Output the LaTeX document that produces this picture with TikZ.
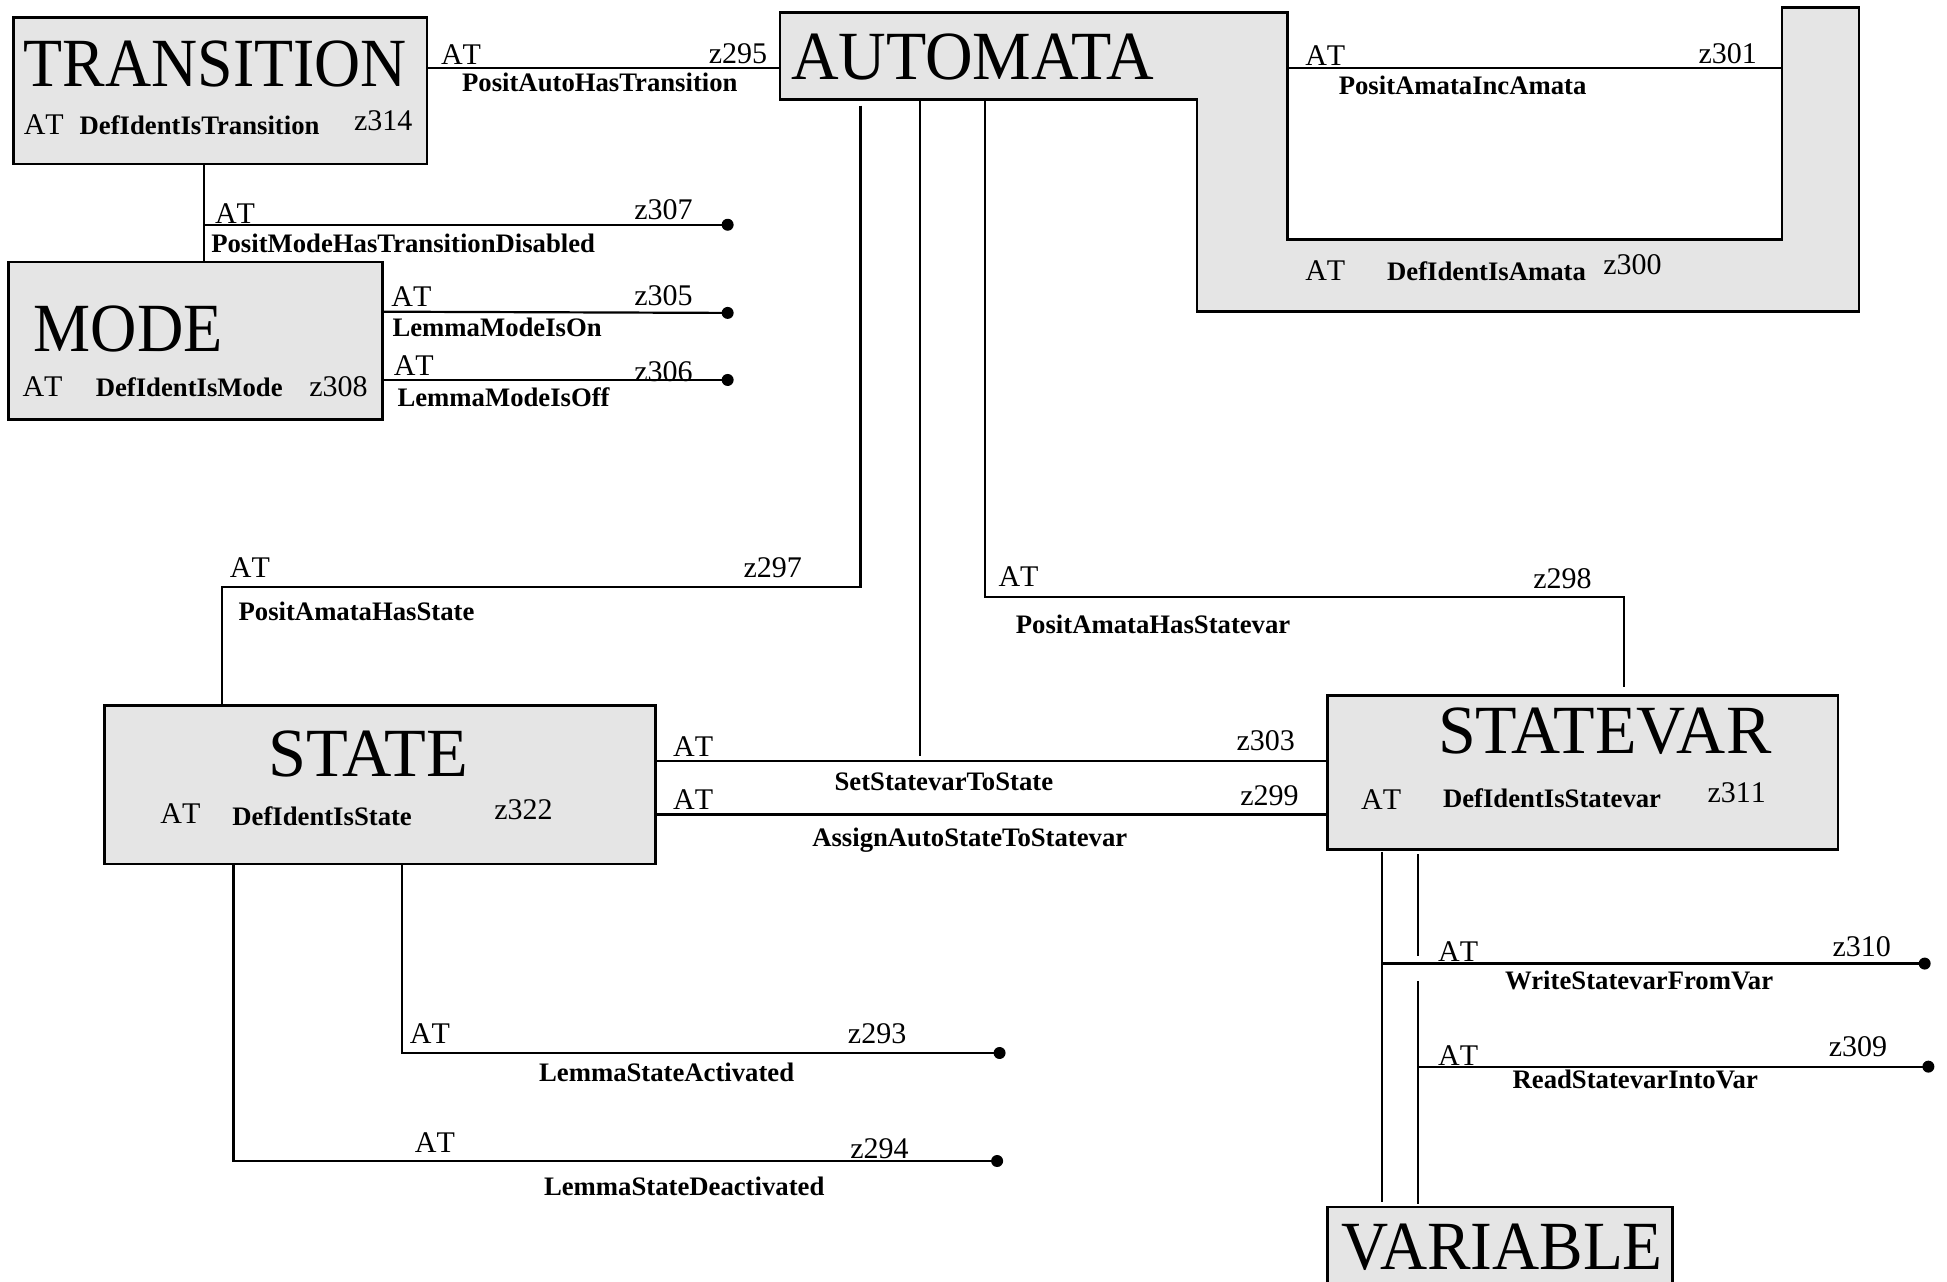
\documentclass[tikz,border=0pt]{standalone}
\usepackage{fontspec}
\setmainfont{Liberation Serif}
\newfontfamily\nokernfont[Kerning=Off]{Liberation Serif}
\usetikzlibrary{fit}
\definecolor{boxgray}{HTML}{E5E5E5}
\begin{document}
\begin{tikzpicture}[x=1.2417pt,y=-1.2417pt,
  box/.style={draw, fill=boxgray, line width=2.5pt, inner sep=0pt},
  conn/.style={line width=2.2pt},
  lab/.style={anchor=base west, inner sep=0pt, font=\nokernfont\fontsize{30}{32}\selectfont},
  labr/.style={anchor=base east, inner sep=0pt, font=\nokernfont\fontsize{30}{32}\selectfont},
  rel/.style={anchor=base west, inner sep=0pt, font=\fontsize{26.7}{28}\selectfont\bfseries},
  ttl/.style={anchor=base west, inner sep=0pt, font=\fontsize{69}{72}\selectfont},
  enddot/.style={circle, fill, inner sep=0pt, minimum size=12pt}]
\useasboundingbox (0,0) rectangle (1568,1032);

% ---------- boxes ----------
\coordinate (t1) at (11,14);   \coordinate (t2) at (344,132);
\node[box, fit=(t1)(t2)] (trans) {};
\coordinate (m1) at (7,211);   \coordinate (m2) at (308,338);
\node[box, fit=(m1)(m2)] (mode) {};
\coordinate (s1) at (84,568);  \coordinate (s2) at (528,696);
\node[box, fit=(s1)(s2)] (state) {};
\coordinate (v1) at (1069,560); \coordinate (v2) at (1480,684);
\node[box, fit=(v1)(v2)] (statevar) {};
\coordinate (w1) at (1069,972); \coordinate (w2) at (1347,1045);
\node[box, fit=(w1)(w2)] (variable) {};

% AUTOMATA (U-shaped)
\draw[box] (628,10) -- (1037,10) -- (1037,193) -- (1435,193) -- (1435,6)
  -- (1497,6) -- (1497,251) -- (964,251) -- (964,80) -- (628,80) -- cycle;
\coordinate (autoW) at (628,55);

% ---------- titles ----------
\node[ttl] (ttrans) at (19,70) {\scalebox{0.925}[1]{TRANSITION}};
\node[ttl] (tauto) at (637,64) {\scalebox{0.955}[1]{AUTOMATA}};
\node[ttl] (tmode) at (27,283) {\scalebox{0.93}[1]{MODE}};
\node[ttl] (tstate) at (216,625) {\scalebox{0.99}[1]{STATE}};
\node[ttl] (tsv) at (1158,607) {\scalebox{0.985}[1]{STATEVAR}};
\node[ttl] (tvar) at (1080,1022) {\scalebox{0.946}[1]{VARIABLE}};

% ---------- identifier lines in boxes ----------
\node[lab] (at314) at (19,108) {AT};
\node[rel] (r314) at (64,108) {DefIdentIsTransition};
\node[lab] (z314) at (285,105) {z314};

\node[lab] (at308) at (18,319) {AT};
\node[rel] (r308) at (77,319) {DefIdentIsMode};
\node[lab] (z308) at (249,319) {z308};

\node[lab] (at322) at (129,663) {AT};
\node[rel] (r322) at (187,665) {DefIdentIsState};
\node[lab] (z322) at (398,660) {z322};

\node[lab] (at311) at (1096,652) {AT};
\node[rel] (r311) at (1162,650) {DefIdentIsStatevar};
\node[lab] (z311) at (1375,646) {z311};

\node[lab] (at300) at (1051,226) {AT};
\node[rel] (r300) at (1117,226) {DefIdentIsAmata};
\node[lab] (z300) at (1291,221) {z300};

% ---------- end dots ----------
\node[enddot] (d307) at (586,181) {};
\node[enddot] (d305) at (586,252) {};
\node[enddot] (d306) at (586,306) {};
\node[enddot] (d293) at (805,848) {};
\node[enddot] (d294) at (803,935) {};
\node[enddot] (d310) at (1550,776) {};
\node[enddot] (d309) at (1553,859) {};

% ---------- connectors ----------
% PositAutoHasTransition
\draw[conn] (344,55) -- (autoW);
\node[lab] at (355,52) {AT};
\node[labr] at (618,51) {z295};
\node[rel] at (372,74) {PositAutoHasTransition};

% PositAmataIncAmata
\draw[conn] (1037,55) -- (1435,55);
\node[lab] at (1051,53) {AT};
\node[labr] at (1415,51) {z301};
\node[rel] at (1078,76) {PositAmataIncAmata};

% PositModeHasTransitionDisabled
\draw[conn] (164,132) -- (164,211);
\draw[conn] (164,181) -- (d307.center);
\node[lab] at (173,180) {AT};
\node[labr] at (558,177) {z307};
\node[rel] at (170,203) {PositModeHasTransitionDisabled};

% LemmaModeIsOn
\draw[conn] (308,251) -- (d305.center);
\node[lab] at (315,247) {AT};
\node[labr] at (558,246) {z305};
\node[rel] at (316,271) {LemmaModeIsOn};

% LemmaModeIsOff
\draw[conn] (308,306) -- (d306.center);
\node[lab] at (317,302) {AT};
\node[labr] at (558,307) {z306};
\node[rel] at (320,327) {LemmaModeIsOff};

% PositAmataHasState
\draw[conn] (693,85) -- (693,473) -- (179,473) -- (179,568);
\node[lab] at (185,465) {AT};
\node[labr] at (646,465) {z297};
\node[rel] at (192,500) {PositAmataHasState};

% PositAmataHasStatevar
\draw[conn] (793,80) -- (793,481) -- (1308,481) -- (1308,553);
\node[lab] at (804,472) {AT};
\node[labr] at (1282,474) {z298};
\node[rel] at (818,510) {PositAmataHasStatevar};

% SetStatevarToState
\draw[conn] (528,613) -- (1069,613);
\draw[conn] (741,80) -- (741,609);
\node[lab] at (542,609) {AT};
\node[labr] at (1043,604) {z303};
\node[rel] at (672,637) {SetStatevarToState};

% AssignAutoStateToStatevar
\draw[conn] (528,656) -- (1069,656);
\node[lab] at (542,652) {AT};
\node[labr] at (1046,649) {z299};
\node[rel] at (654,682) {AssignAutoStateToStatevar};

% LemmaStateActivated
\draw[conn] (324,696) -- (324,848) -- (d293.center);
\node[lab] at (330,840) {AT};
\node[labr] at (730,840) {z293};
\node[rel] at (434,871) {LemmaStateActivated};

% LemmaStateDeactivated
\draw[conn] (188,696) -- (188,935) -- (d294.center);
\node[lab] at (334,928) {AT};
\node[labr] at (732,933) {z294};
\node[rel] at (438,963) {LemmaStateDeactivated};

% STATEVAR -- VARIABLE
\draw[conn] (1113,686) -- (1113,968);
\draw[conn] (1142,688) -- (1142,770);
\draw[conn] (1142,790) -- (1142,970);

% WriteStatevarFromVar
\draw[conn] (1113,776) -- (d310.center);
\node[lab] at (1158,774) {AT};
\node[labr] at (1523,770) {z310};
\node[rel] at (1212,797) {WriteStatevarFromVar};

% ReadStatevarIntoVar
\draw[conn] (1142,859) -- (d309.center);
\node[lab] at (1158,858) {AT};
\node[labr] at (1520,851) {z309};
\node[rel] at (1218,877) {ReadStatevarIntoVar};
\end{tikzpicture}
\end{document}
